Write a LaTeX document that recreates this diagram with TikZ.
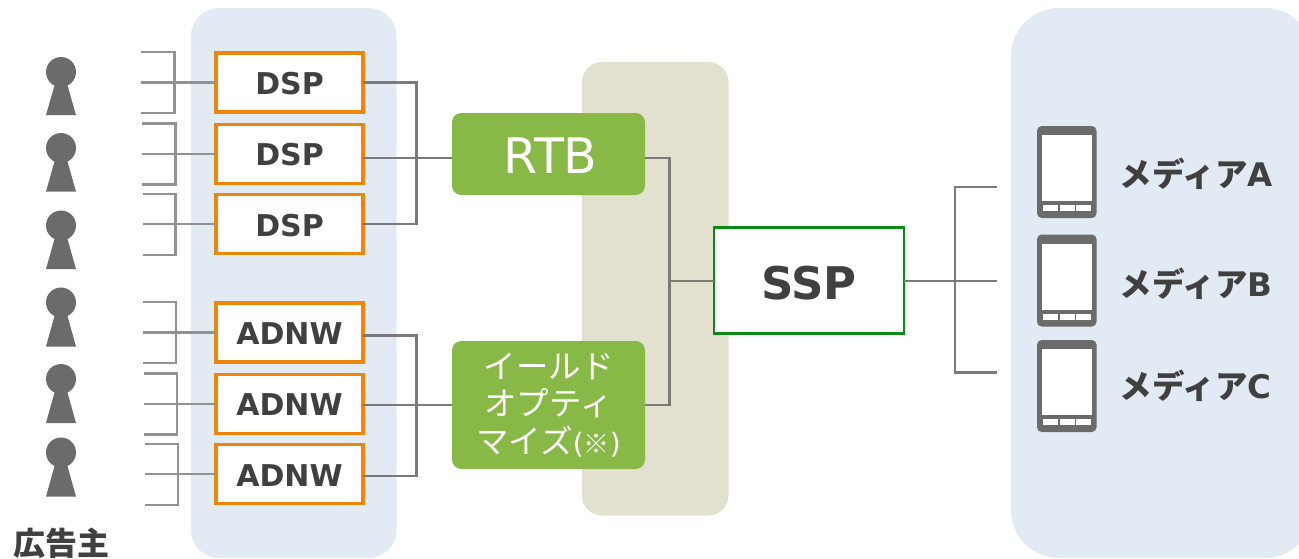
\documentclass[tikz,border=0pt]{standalone}
\usepackage{fontspec}
\setmainfont{DejaVu Sans}
\newfontfamily\jp{Noto Sans CJK JP}
\definecolor{panelblue}{HTML}{E2EAF4}
\definecolor{panelbeige}{HTML}{E2E0CF}
\definecolor{boxgreen}{HTML}{88B947}
\definecolor{edgeorange}{HTML}{EE860A}
\definecolor{edgegreen}{HTML}{0B8A14}
\definecolor{ink}{HTML}{404040}
\definecolor{icon}{HTML}{6B6B6B}
\definecolor{wire}{HTML}{7A7A7A}
\definecolor{wirelight}{HTML}{929292}
\newcommand{\fs}[1]{\fontsize{\dimexpr#1pt*3/4\relax}{\dimexpr#1pt*87/100\relax}\selectfont}
\newcommand{\dn}[2]{\raisebox{-#1pt}[\height][\depth]{#2}}
\tikzset{
  x=0.75pt,y=-0.75pt,
  wired/.style={draw=wire,line width=1.7pt},
  bracket/.style={draw=wirelight,line width=1.7pt},
  buybox/.style={draw=edgeorange,fill=white,line width=2.3pt,minimum width=110.25pt,minimum height=44.25pt,inner sep=0pt,outer sep=0pt,text=ink,font=\fs{30}\bfseries},
  greenbox/.style={fill=boxgreen,rounded corners=7pt,inner sep=0pt,outer sep=0pt,minimum width=144.75pt,text=white,align=center},
  medialabel/.style={anchor=west,inner sep=0pt,text=ink,font=\fs{32.5}\bfseries},
}
\begin{document}
\begin{tikzpicture}
\useasboundingbox (0,0) rectangle (1299,558);
\clip (0,0) rectangle (1299,558);
% panels
\fill[panelblue,rounded corners=21pt] (191,8) rectangle (396.5,558);
\fill[panelblue,rounded corners=36pt] (1011,8) rectangle (1313,558);
\fill[panelbeige,rounded corners=15pt] (582,62) rectangle (728.5,515.5);
% people
\foreach \hy/\by in {72/115,148/191.5,225.5/269,302.5/346.5,379/423,452.5/496.5}{
  \fill[icon] (61,\hy) circle (15);
  \fill[icon] (55.5,\hy+10) -- (66.5,\hy+10) -- (76,\by) -- (46,\by) -- cycle;
}
% named joins
\coordinate (rtbjoin) at (416.5,158);
\coordinate (yojoin) at (416.5,405);
\coordinate (sellerjoin) at (669.5,281);
\coordinate (mediajoin) at (955,281);
\coordinate (mediaA) at (997,187);
\coordinate (mediaB) at (997,281);
\coordinate (mediaC) at (997,372.5);
% boxes
\node[buybox] (dsp1) at (289.5,82.5) {\dn{0.6}{DSP}};
\node[buybox] (dsp2) at (289.5,153.7) {\dn{0.6}{DSP}};
\node[buybox] (dsp3) at (289.5,224.3) {\dn{0.6}{DSP}};
\node[buybox] (adnw1) at (289.5,332.5) {\dn{0.6}{ADNW}};
\node[buybox] (adnw2) at (289.5,403.7) {\dn{0.6}{ADNW}};
\node[buybox] (adnw3) at (289.5,474.3) {\dn{0.6}{ADNW}};
\node[greenbox,minimum height=61.5pt,font=\fs{49}] (rtb) at (548.5,154) {\hspace{3pt}\dn{1}{RTB}};
\node[greenbox,minimum height=96pt,font=\fs{32.5}\jp] (yield) at (548.5,405)
  {イールド\\オプティ\\マイズ{\fs{28}\rmfamily(}{\fs{26}※}{\fs{28}\rmfamily)}};
\node[draw=edgegreen,fill=white,line width=1.9pt,minimum width=142.5pt,minimum height=79.5pt,inner sep=0pt,outer sep=0pt,text=ink,font=\fs{45}\bfseries] (ssp) at (809,280.5) {\dn{2.2}{SSP}};
% bracket free ends and connectors
\foreach \n/\sx/\vx/\t/\m/\b in {dsp1/141/174.5/52/82.5/113,dsp2/142/175.5/123.5/153.7/184.5,dsp3/142.5/175.5/194/224.3/255,adnw1/143/176/302/332.5/363,adnw2/144/177/373.5/403.7/434.5,adnw3/144.5/178/444/474.3/505}{
  \coordinate (\n top) at (\sx,\t);
  \coordinate (\n mid) at (\sx,\m);
  \coordinate (\n low) at (\sx,\b);
  \coordinate (\n bar) at (\vx,\m);
  \draw[bracket] (\n top) -| (\n bar) |- (\n low);
  \draw[bracket] (\n mid) -- (\n.west);
}
\draw[wired] (dsp1.east) -| (rtbjoin);
\draw[wired] (dsp3.east) -| (rtbjoin);
\draw[wired] (dsp2.east |- rtbjoin) -- (rtb.west |- rtbjoin);
\draw[wired] (adnw1.east |- 0,335.5) -| (yojoin);
\draw[wired] (adnw3.east |- 0,476) -| (yojoin);
\draw[wired] (adnw2.east |- yojoin) -- (yield.west);
\draw[wired] (rtb.east |- rtbjoin) -| (sellerjoin);
\draw[wired] (yield.east) -| (sellerjoin);
\draw[wired] (sellerjoin) -- (ssp.west |- sellerjoin);
\draw[wired] (ssp.east |- mediaB) -- (mediaB);
\draw[wired] (mediaA) -| (mediajoin);
\draw[wired] (mediaC) -| (mediajoin);
% phones
\foreach \p in {126,234.5,340}{
  \fill[icon,rounded corners=3.5pt] (1037,\p) rectangle (1096.5,\p+92);
  \fill[white] (1042,\p+9) rectangle (1092,\p+75);
  \fill[white] (1042.5,\p+79) rectangle (1058,\p+85);
  \fill[white] (1059.5,\p+79) rectangle (1074.5,\p+85);
  \fill[white] (1076,\p+79) rectangle (1091,\p+85);
}
% labels
\node[medialabel] (labelA) at (1119.5,174) {{\jp メディア}A};
\node[medialabel] (labelB) at (1119.5,284) {{\jp メディア}B};
\node[medialabel] (labelC) at (1119.5,386) {{\jp メディア}C};
\node[inner sep=0pt,text=ink,font=\fs{32}\jp\bfseries] (adv) at (61,543) {広告主};
\end{tikzpicture}
\end{document}
